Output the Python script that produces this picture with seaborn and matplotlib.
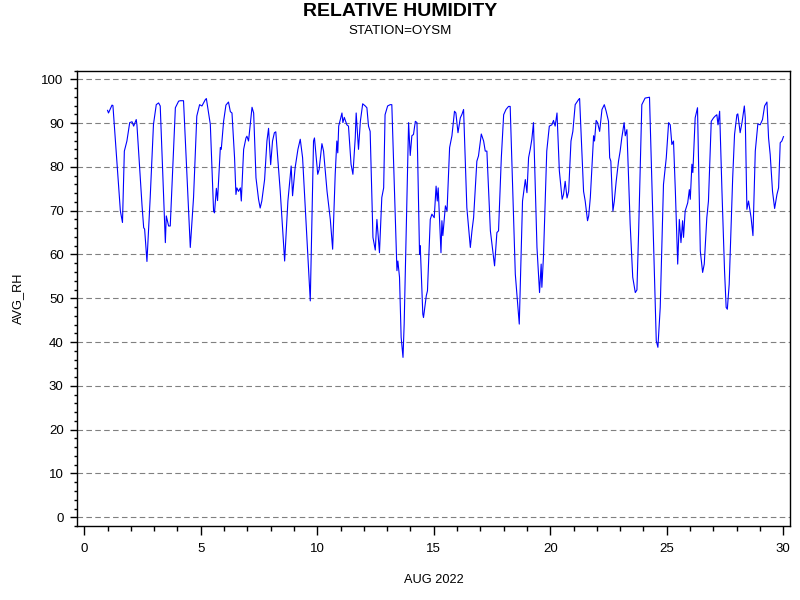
#!/usr/bin/env python3

from matplotlib import pyplot as plt
from matplotlib.ticker import MultipleLocator
import pandas as pd
import seaborn as sns

# day of month (Aug 2022) and average relative humidity
days = [
    1.00, 1.04, 1.19, 1.23, 1.55, 1.64, 1.72, 1.83, 1.95, 2.05, 2.12, 2.23, 2.26,
    2.48, 2.55, 2.59, 2.69, 2.83, 2.97, 3.09, 3.19, 3.26, 3.48, 3.52, 3.62, 3.69,
    3.91, 4.05, 4.12, 4.26, 4.55, 4.69, 4.83, 4.95, 5.05, 5.19, 5.24, 5.41, 5.55,
    5.59, 5.67, 5.72, 5.84, 5.88, 5.98, 6.08, 6.19, 6.27, 6.34, 6.45, 6.51, 6.55,
    6.62, 6.70, 6.74, 6.84, 6.94, 6.98, 7.05, 7.20, 7.27, 7.37, 7.48, 7.55, 7.62,
    7.74, 7.84, 7.91, 7.94, 8.00, 8.08, 8.16, 8.22, 8.41, 8.60, 8.74, 8.88, 8.94,
    9.05, 9.17, 9.27, 9.37, 9.70, 9.84, 9.88, 10.02, 10.08, 10.20, 10.27, 10.42,
    10.56, 10.66, 10.77, 10.84, 10.88, 10.92, 11.06, 11.10, 11.16, 11.27, 11.34,
    11.45, 11.53, 11.63, 11.67, 11.77, 11.85, 11.95, 12.06, 12.13, 12.20, 12.27,
    12.39, 12.49, 12.56, 12.67, 12.77, 12.85, 12.91, 13.02, 13.13, 13.20, 13.42,
    13.46, 13.53, 13.60, 13.68, 13.73, 13.92, 13.99, 14.06, 14.13, 14.21, 14.28,
    14.39, 14.42, 14.53, 14.56, 14.68, 14.73, 14.85, 14.92, 15.02, 15.10, 15.15,
    15.19, 15.31, 15.35, 15.39, 15.50, 15.57, 15.68, 15.78, 15.89, 15.95, 16.04,
    16.14, 16.21, 16.28, 16.42, 16.57, 16.64, 16.71, 16.85, 16.92, 17.04, 17.14,
    17.21, 17.28, 17.43, 17.61, 17.71, 17.78, 17.90, 18.00, 18.10, 18.21, 18.28,
    18.50, 18.67, 18.81, 18.93, 19.00, 19.07, 19.14, 19.21, 19.28, 19.43, 19.54,
    19.61, 19.64, 19.71, 19.85, 19.96, 20.07, 20.14, 20.21, 20.29, 20.39, 20.51,
    20.57, 20.64, 20.72, 20.79, 20.89, 20.97, 21.07, 21.22, 21.26, 21.43, 21.50,
    21.60, 21.65, 21.72, 21.86, 21.90, 21.97, 22.03, 22.12, 22.22, 22.32, 22.40,
    22.50, 22.55, 22.60, 22.69, 22.75, 22.83, 22.93, 23.00, 23.07, 23.17, 23.22,
    23.29, 23.43, 23.54, 23.65, 23.72, 23.79, 23.93, 24.07, 24.26, 24.41, 24.55,
    24.62, 24.72, 24.86, 24.98, 25.08, 25.15, 25.22, 25.29, 25.37, 25.47, 25.54,
    25.61, 25.68, 25.72, 25.79, 25.90, 25.97, 26.01, 26.08, 26.12, 26.22, 26.32,
    26.44, 26.54, 26.61, 26.72, 26.79, 26.91, 27.01, 27.08, 27.15, 27.20, 27.27,
    27.37, 27.48, 27.55, 27.60, 27.68, 27.83, 27.91, 28.01, 28.05, 28.15, 28.23,
    28.33, 28.37, 28.44, 28.51, 28.62, 28.70, 28.80, 28.91, 29.01, 29.11, 29.20,
    29.30, 29.37, 29.44, 29.54, 29.63, 29.73, 29.80, 29.87, 29.94, 30.01,
]
avg_rh = [
    92.9, 92.3, 94.1, 94.0, 69.9, 67.3, 83.6, 85.9, 90.1, 90.3, 89.3, 90.8, 89.6,
    71.1, 66.1, 65.8, 58.4, 73.0, 89.7, 94.2, 94.6, 93.9, 62.7, 68.8, 66.5, 66.5,
    93.5, 95.0, 95.1, 95.1, 61.6, 73.0, 91.6, 94.2, 93.9, 95.3, 95.6, 89.7, 69.9,
    69.5, 75.1, 72.3, 84.4, 84.0, 90.4, 94.1, 94.8, 92.6, 92.3, 82.1, 73.7, 75.2,
    74.4, 75.2, 72.2, 84.0, 86.6, 87.0, 85.9, 93.6, 92.3, 77.5, 72.6, 70.6, 72.2,
    77.1, 85.9, 88.8, 85.9, 80.5, 85.9, 87.8, 88.0, 74.5, 58.5, 72.2, 80.2, 73.4,
    79.8, 84.0, 86.3, 82.1, 49.4, 85.9, 86.6, 78.3, 79.4, 85.3, 83.6, 74.4,
    68.0, 61.2, 78.3, 85.9, 83.2, 89.3, 92.3, 90.1, 91.3, 89.6, 89.3,
    80.6, 78.3, 86.6, 92.3, 84.0, 90.4, 94.4, 93.9, 93.5, 89.3, 88.1,
    63.9, 61.0, 68.0, 60.4, 73.0, 75.2, 91.9, 93.9, 94.2, 94.2, 56.3,
    58.5, 54.8, 41.1, 36.5, 44.1, 90.1, 82.6, 87.1, 87.4, 90.4, 90.1,
    60.0, 62.0, 46.4, 45.6, 50.6, 51.7, 68.0, 69.2, 68.4, 75.6, 72.2,
    75.2, 60.4, 67.7, 64.3, 71.1, 69.9, 84.4, 87.1, 92.7, 92.3, 87.8,
    91.2, 92.0, 93.1, 70.7, 61.6, 65.4, 68.4, 81.3, 82.5, 87.5, 85.9,
    83.6, 83.6, 65.4, 57.4, 65.0, 65.4, 82.1, 91.9, 93.1, 93.8, 93.8,
    55.5, 44.1, 72.2, 77.1, 74.1, 82.1, 84.0, 86.3, 90.1, 61.6, 51.3,
    57.8, 52.5, 59.7, 83.6, 89.3, 89.6, 90.6, 89.3, 92.3, 79.1, 72.6,
    73.7, 76.7, 72.9, 74.4, 85.9, 88.1, 94.2, 95.4, 95.6, 74.4, 72.2,
    67.7, 68.8, 73.0, 87.1, 85.9, 90.6, 90.1, 88.1, 93.1, 94.2, 92.7,
    90.4, 82.1, 81.3, 69.9, 72.2, 76.7, 81.3, 83.6, 86.6, 90.1, 87.1,
    88.5, 66.9, 54.8, 51.3, 51.9, 64.6, 94.2, 95.7, 95.9, 66.9, 40.3,
    38.8, 47.9, 76.0, 82.1, 90.1, 89.6, 85.1, 85.9, 74.4, 57.8, 68.0,
    62.7, 67.7, 63.9, 69.9, 71.8, 74.8, 72.6, 80.6, 78.7, 91.2, 93.5,
    60.8, 55.9, 57.8, 68.4, 72.2, 90.4, 91.2, 91.6, 91.9, 89.6, 92.7,
    74.4, 56.3, 47.9, 47.5, 53.2, 77.5, 87.4, 91.9, 92.1, 87.8, 90.1,
    93.9, 91.2, 70.3, 72.2, 68.4, 64.3, 83.6, 89.8, 89.6, 90.8, 93.9,
    94.8, 86.6, 82.8, 74.4, 70.5, 73.7, 75.2, 85.5, 85.9, 86.9,
]

df = pd.DataFrame({"day": days, "AVG_RH": avg_rh})

plt.rcParams["font.family"] = ["Liberation Sans", "DejaVu Sans"]

fig = plt.figure(figsize=(8, 6), dpi=100)
ax = fig.add_axes([0.0966, 0.1233, 0.8909, 0.7592])

sns.lineplot(data=df, x="day", y="AVG_RH", ax=ax, color="#0000ff",
             linewidth=0.8, estimator=None, sort=False)

ax.set_xlim(-0.3, 30.29)
ax.set_ylim(-2, 102)
ax.xaxis.set_major_locator(MultipleLocator(5))
ax.xaxis.set_minor_locator(MultipleLocator(1))
ax.yaxis.set_major_locator(MultipleLocator(10))
ax.yaxis.set_minor_locator(MultipleLocator(2))
ax.tick_params(axis="x", which="major", length=6.5, width=1, pad=6, labelsize=9.5)
ax.tick_params(axis="x", which="minor", length=3.6, width=1)
ax.tick_params(axis="y", which="major", length=4.8, width=1, pad=5, labelsize=9.5)
ax.tick_params(axis="y", which="minor", length=2.4, width=1)
ax.grid(axis="y", which="major", linestyle=(0, (5, 3)), color="gray", linewidth=0.8)
for s in ax.spines.values():
    s.set_linewidth(1)
ax.set_xlabel("")
ax.set_ylabel("")

fig.text(0.5, 1 - 11 / 600, "RELATIVE HUMIDITY", ha="center", va="center",
         fontsize=14, fontweight="bold")
fig.text(0.5, 1 - 31 / 600, "STATION=OYSM", ha="center", va="center", fontsize=9.6)
fig.text(18 / 800, 1 - 298 / 600, "AVG_RH", ha="center", va="center",
         rotation=90, fontsize=9.2)
fig.text(433.5 / 800, 1 - 580 / 600, "AUG 2022", ha="center", va="center", fontsize=9.2)

plt.savefig("out.png", dpi=100)
